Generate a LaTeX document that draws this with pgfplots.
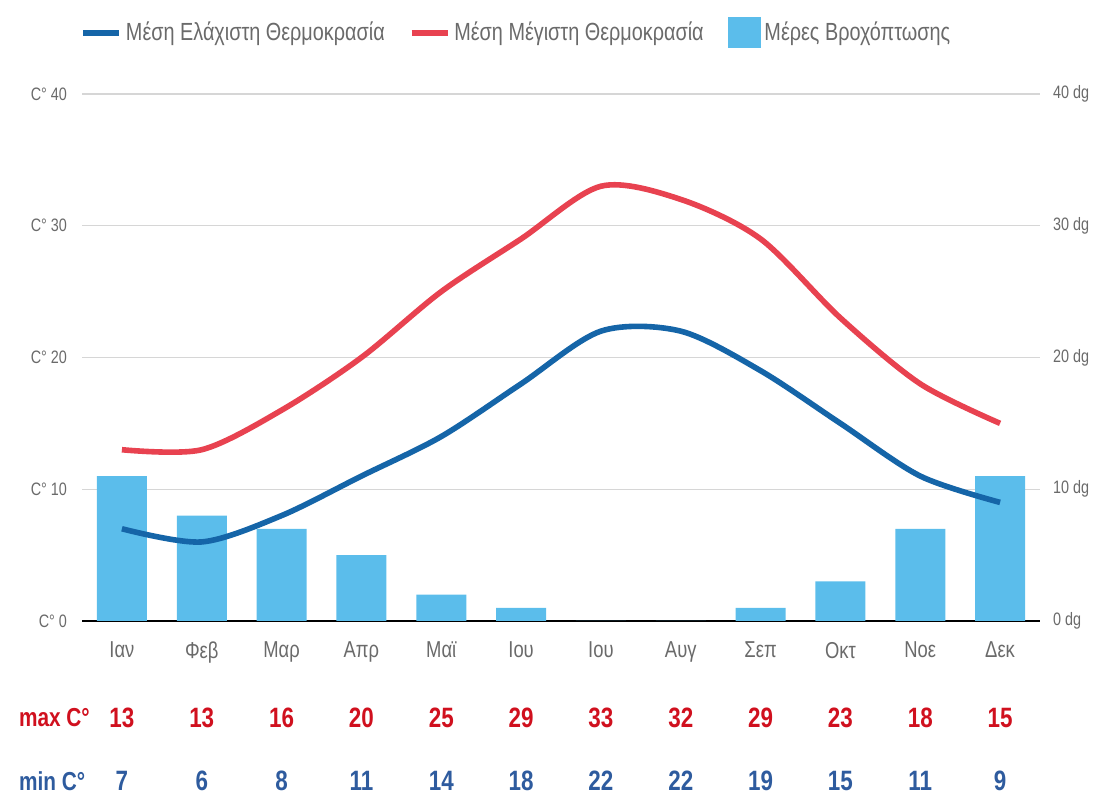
\documentclass[border=0pt]{standalone}
\usepackage{fontspec}
\setmainfont[FakeStretch=0.8]{Liberation Sans}
\usepackage{pgfplots}
\usepackage{pgfplotstable}
\pgfplotsset{compat=1.18}
\definecolor{minline}{HTML}{1565A8}
\definecolor{maxline}{HTML}{E84250}
\definecolor{barblue}{HTML}{5BBDEB}
\definecolor{maxtext}{HTML}{D0101E}
\definecolor{mintext}{HTML}{2E5B9E}
\definecolor{labgray}{HTML}{6A6A6A}
\definecolor{gridgray}{HTML}{D6D6D6}

\pgfplotsset{
  lineleg/.style={legend image code/.code={\draw[##1] (0pt,0pt) -- (18pt,0pt);}},
  barleg/.style={legend image code/.code={\fill[barblue] (0pt,-7.5pt) rectangle (16pt,7.5pt);}},
}

\pgfplotstableread{
x month rain tmin tmax
0 Ιαν 11 7 13
1 Φεβ 8 6 13
2 Μαρ 7 8 16
3 Απρ 5 11 20
4 Μαϊ 2 14 25
5 Ιου 1 18 29
6 Ιου 0 22 33
7 Αυγ 0 22 32
8 Σεπ 1 19 29
9 Οκτ 3 15 23
10 Νοε 7 11 18
11 Δεκ 11 9 15
}\data

\begin{document}
\begin{tikzpicture}
\pgfplotsset{
  common/.style={
    width=479pt, height=263.5pt, scale only axis,
    xmin=-0.5, xmax=11.5, ymin=0, ymax=40,
    ytick={0,10,20,30,40},
    major tick length=0pt,
    tick style={draw=none},
    /pgf/number format/assume math mode=true,
  }
}
% axis 1: bars, grid, right labels
\begin{axis}[common, name=ax,
  axis x line*=bottom, axis y line*=right,
  x axis line style={-, black, line width=1pt},
  y axis line style={draw=none},
  xtick=\empty,
  ymajorgrids, grid style={gridgray, line width=0.6pt},
  yticklabels={0 dg,10 dg,20 dg,30 dg,40 dg},
  yticklabel style={font=\fontsize{9}{9}\selectfont, text=labgray, xshift=3pt},
]
\addplot[ybar, bar width=25pt, fill=barblue, draw=none] table[x=x, y=rain] {\data};
\end{axis}
% axis 2: lines, left labels, legend, table rows
\begin{axis}[common,
  axis x line*=bottom, axis y line*=left,
  x axis line style={draw=none},
  y axis line style={draw=none},
  clip=false,
  xtick=data,
  xticklabels from table={\data}{month},
  xticklabel style={font=\fontsize{11.5}{11.5}\selectfont, text=labgray, yshift=-7pt},
  yticklabels={C° 0,C° 10,C° 20,C° 30,C° 40},
  yticklabel style={font=\fontsize{9}{9}\selectfont, text=labgray, xshift=-4pt},
  legend columns=-1,
  legend style={draw=none, fill=none, at={(0.0,1.116)}, anchor=west, xshift=-4pt,
    font=\fontsize{12.4}{12.4}\selectfont, text=labgray,
    /tikz/every even column/.append style={column sep=10pt}},
]
\addplot[smooth, minline, line width=2.8pt, lineleg] table[x=x, y=tmin] {\data};
\addlegendentry{Μέση Ελάχιστη Θερμοκρασία}
\addplot[smooth, maxline, line width=2.8pt, lineleg] table[x=x, y=tmax] {\data};
\addlegendentry{Μέση Μέγιστη Θερμοκρασία}
\addlegendimage{barleg}
\addlegendentry{Μέρες Βροχόπτωσης}

\addplot[forget plot, draw=none, mark=none, nodes near coords, point meta=explicit,
  nodes near coords style={anchor=center, text=maxtext, font=\bfseries\fontsize{14}{14}\selectfont}]
  table[x=x, y expr=-7.36, meta=tmax] {\data};
\addplot[forget plot, draw=none, mark=none, nodes near coords, point meta=explicit,
  nodes near coords style={anchor=center, text=mintext, font=\bfseries\fontsize{14}{14}\selectfont}]
  table[x=x, y expr=-12.14, meta=tmin] {\data};
\node[anchor=west, text=maxtext, font=\bfseries\fontsize{13}{13}\selectfont, xshift=-35pt, yshift=-48.5pt] at (rel axis cs:0,0) {max C°};
\node[anchor=west, text=mintext, font=\bfseries\fontsize{13}{13}\selectfont, xshift=-35pt, yshift=-80pt] at (rel axis cs:0,0) {min C°};
\end{axis}
\pgfresetboundingbox
\path[use as bounding box] ([shift={(-41pt,-95pt)}]ax.south west) rectangle ([shift={(28pt,47pt)}]ax.north east);
\end{tikzpicture}
\end{document}
